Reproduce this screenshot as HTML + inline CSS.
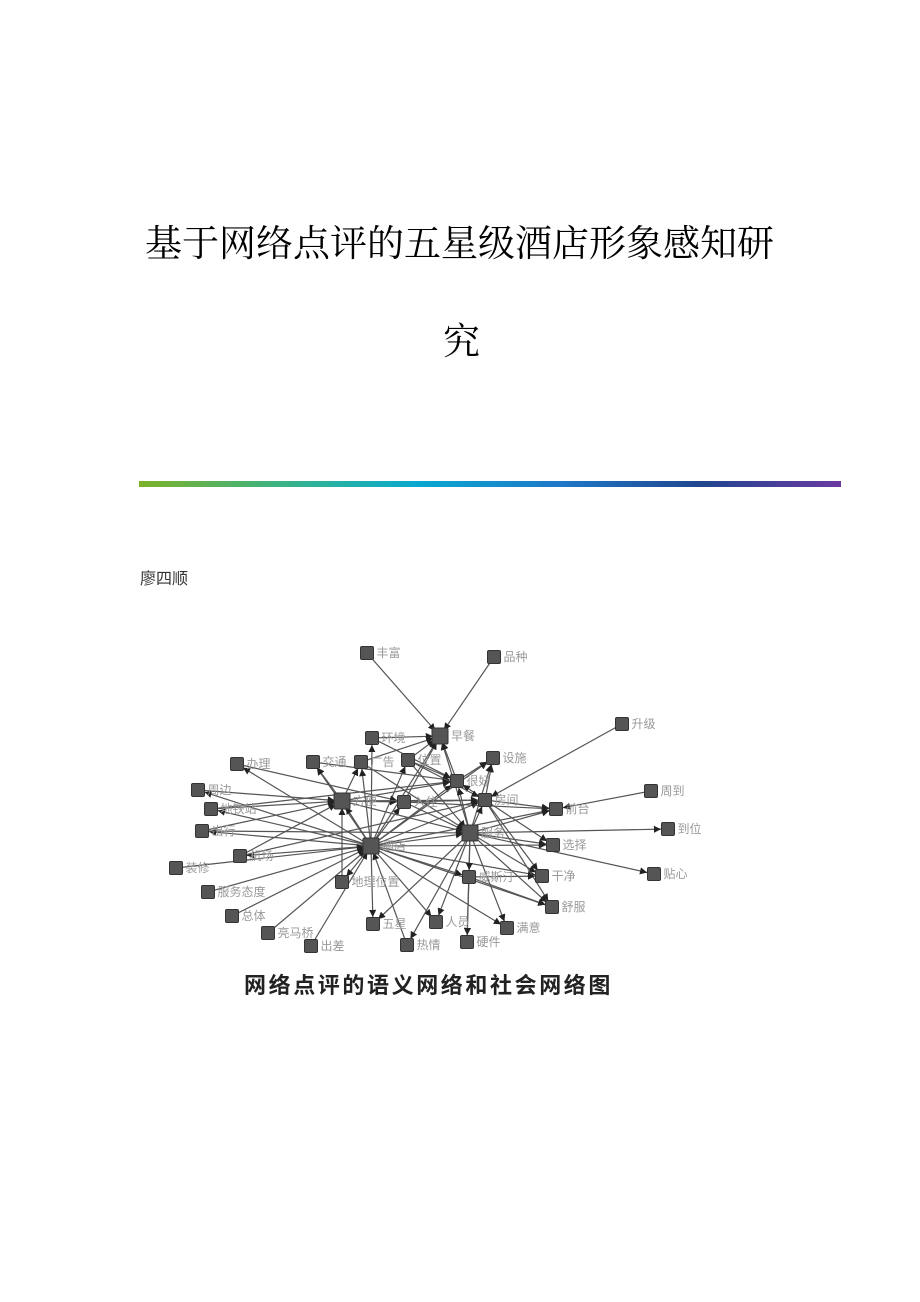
<!DOCTYPE html>
<html><head><meta charset="utf-8"><style>
html,body{margin:0;padding:0;background:#fff;}
body{width:920px;height:1302px;position:relative;overflow:hidden;font-family:"Liberation Serif","Noto Serif CJK SC",serif;}
.t{position:absolute;left:0;width:920px;color:#000;}
</style></head><body>
<div class="t" style="top:216px;left:145px;width:680px;font-size:37px;line-height:48px;font-family:'Noto Serif CJK SC',serif;letter-spacing:0px;white-space:nowrap;">基于网络点评的五星级酒店形象感知研</div>
<div class="t" style="top:314px;left:443px;width:60px;font-size:37px;line-height:48px;font-family:'Noto Serif CJK SC',serif;">究</div>
<div style="position:absolute;left:139px;top:481px;width:702px;height:6px;background:linear-gradient(90deg,#7cb228 0%,#2cb39a 25%,#09a8d0 40%,#1f78c8 60%,#20468e 80%,#6a3aa0 100%);"></div>
<div class="t" style="top:570px;left:140px;font-size:16px;line-height:20px;color:#333;font-family:'Liberation Sans','Noto Sans CJK SC',sans-serif;">廖四顺</div>
<svg width="920" height="1302" style="position:absolute;left:0;top:0" xmlns="http://www.w3.org/2000/svg">
<defs><marker id="a" markerWidth="6" markerHeight="6" refX="6" refY="3" orient="auto"><path d="M0,0L6,3L0,6z" fill="#222"/></marker></defs>
<g id="edges" stroke="#555" stroke-width="1.2" fill="none" marker-end="url(#a)"></g>
<g id="nodes"></g>
<text x="244" y="993" font-size="22" font-weight="bold" fill="#222" letter-spacing="2.6" font-family="'Noto Sans CJK SC',sans-serif">网络点评的语义网络和社会网络图</text>
</svg>
<script>
var N={丰富:[367,653],环境:[372,738],办理:[237,764],交通:[313,762],广告:[361,762],位置:[408,760],周边:[198,790],地铁站:[211,809],方便:[342,801],入住:[404,802],出行:[202,831],酒店:[371,846],机场:[240,856],装修:[176,868],地理位置:[342,882],服务态度:[208,892],总体:[232,916],亮马桥:[268,933],出差:[311,946],五星:[373,924],热情:[407,945],品种:[494,657],早餐:[440,736],升级:[622,724],设施:[493,758],很好:[457,781],房间:[485,800],周到:[651,791],前台:[556,809],服务:[470,833],到位:[668,829],选择:[553,845],贴心:[654,874],威斯汀:[469,877],干净:[542,876],舒服:[552,907],人员:[436,922],满意:[507,928],硬件:[467,942]};
var E=[["丰富","早餐"],["品种","早餐"],["环境","早餐"],["升级","房间"],["周到","前台"],["服务","到位"],["服务","贴心"],
["酒店","办理"],["酒店","交通"],["酒店","周边"],["酒店","地铁站"],["酒店","出行"],["酒店","机场"],["装修","酒店"],["服务态度","酒店"],["总体","酒店"],["亮马桥","酒店"],["出差","酒店"],["酒店","五星"],["热情","酒店"],["酒店","方便"],["酒店","入住"],["酒店","地理位置"],["地理位置","方便"],["酒店","广告"],["酒店","位置"],["酒店","环境"],["酒店","早餐"],["酒店","很好"],["酒店","房间"],["酒店","服务"],["酒店","设施"],["酒店","前台"],["酒店","选择"],["酒店","干净"],["酒店","舒服"],["酒店","威斯汀"],["酒店","满意"],["酒店","人员"],
["方便","交通"],["方便","广告"],["方便","入住"],["周边","方便"],["地铁站","方便"],["出行","方便"],["机场","方便"],["办理","入住"],["方便","很好"],["方便","服务"],["方便","房间"],
["服务","早餐"],["服务","设施"],["服务","很好"],["服务","房间"],["服务","前台"],["服务","选择"],["服务","干净"],["服务","舒服"],["服务","人员"],["服务","硬件"],["服务","满意"],["服务","热情"],["服务","五星"],["服务","威斯汀"],["入住","服务"],["位置","服务"],["广告","服务"],["交通","很好"],
["房间","前台"],["房间","设施"],["房间","干净"],["房间","舒服"],["房间","选择"],["房间","很好"],["入住","房间"],["位置","房间"],["位置","早餐"],["广告","早餐"],["很好","早餐"],["很好","设施"],["位置","很好"],["环境","很好"],["入住","早餐"],["威斯汀","干净"],["威斯汀","硬件"],["威斯汀","舒服"],["入住","前台"],["地铁站","很好"],["出行","服务"],["机场","房间"]];
var s="http://www.w3.org/2000/svg",eg=document.getElementById("edges"),ng=document.getElementById("nodes");
E.forEach(function(e){var a=N[e[0]],b=N[e[1]];var dx=b[0]-a[0],dy=b[1]-a[1],l=Math.sqrt(dx*dx+dy*dy);var k=(l-7)/l;var L=document.createElementNS(s,"line");L.setAttribute("x1",a[0]);L.setAttribute("y1",a[1]);L.setAttribute("x2",a[0]+dx*k);L.setAttribute("y2",a[1]+dy*k);eg.appendChild(L);});
for(var n in N){var p=N[n];var big=(n=="酒店"||n=="服务"||n=="方便"||n=="早餐")?8:6.5;var r=document.createElementNS(s,"rect");r.setAttribute("x",p[0]-big);r.setAttribute("y",p[1]-big);r.setAttribute("width",2*big);r.setAttribute("height",2*big);r.setAttribute("rx",1.5);r.setAttribute("fill","#555");r.setAttribute("stroke","#333");ng.appendChild(r);var t=document.createElementNS(s,"text");t.setAttribute("x",p[0]+big+3);t.setAttribute("y",p[1]+4);t.setAttribute("font-size","12");t.setAttribute("fill","#999");t.setAttribute("font-family","'Noto Sans CJK SC',sans-serif");t.textContent=n;ng.appendChild(t);}
</script>
</body></html>
